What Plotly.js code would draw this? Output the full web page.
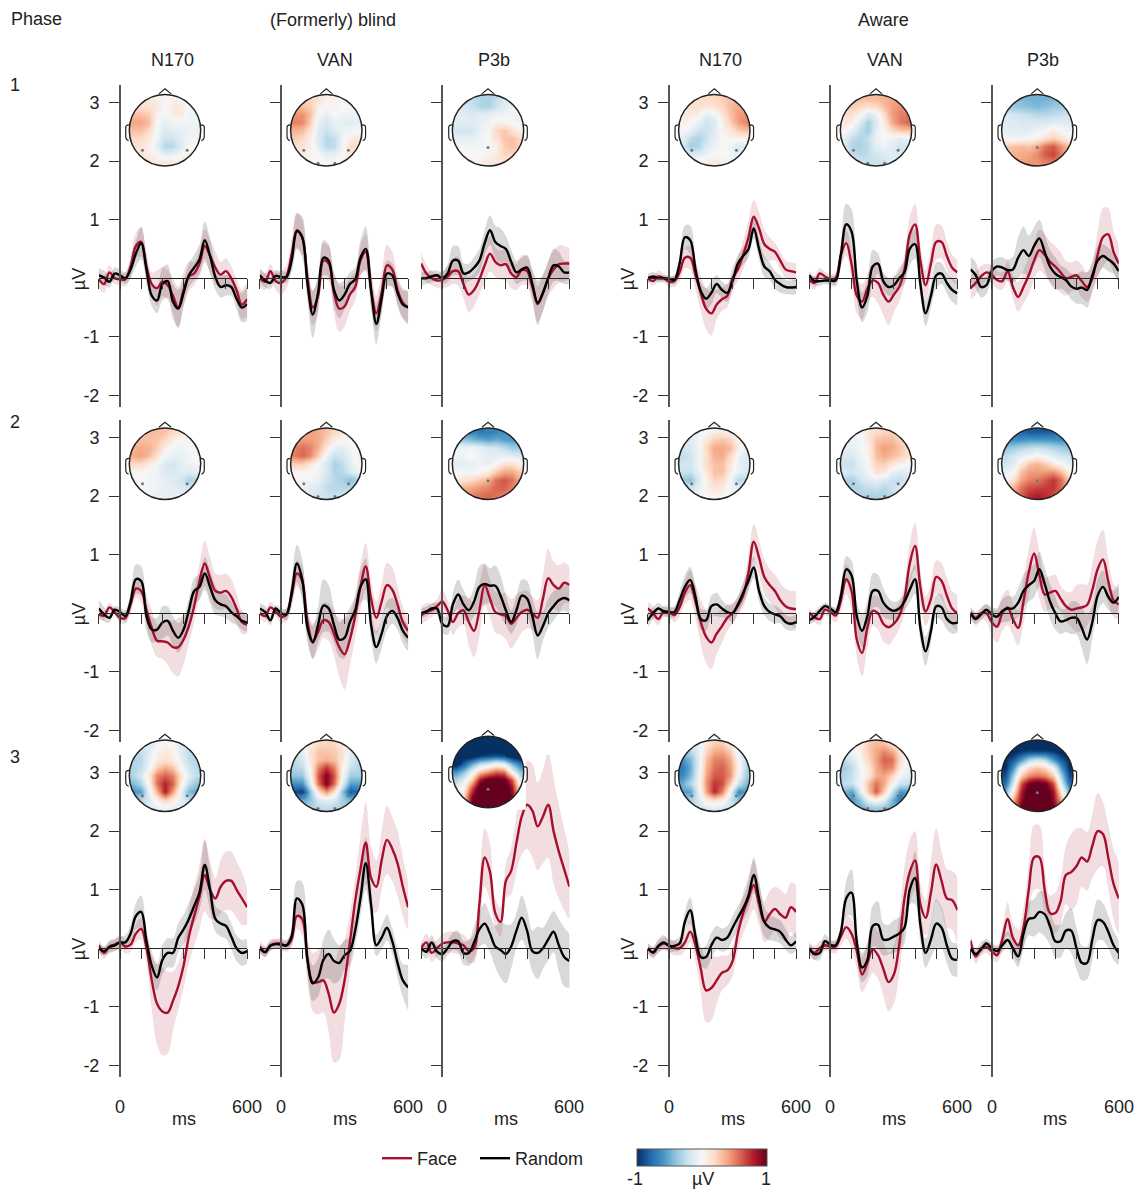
<!DOCTYPE html>
<html><head><meta charset="utf-8">
<script src="https://cdn.plot.ly/plotly-3.0.1.min.js"></script>
<style>html,body{margin:0;padding:0;background:#fff}</style></head>
<body><div id="chart" style="width:1137px;height:1191px"></div>
<script>
// All waveform and scalp values are in hundredths of a microvolt.
const times=[-100,-75,-50,-25,0,25,50,75,100,125,150,175,200,225,250,275,300,325,350,375,400,425,450,475,500,525,550,575,600];
const conditionNames=['Face','Random'];
const componentNames=['N170','VAN','P3b','N170','VAN','P3b'];
const groupNames=['(Formerly) blind','Aware'];
const phaseNames=['1','2','3'];
const yTickValues=[-2,-1,0,1,2,3];
const yTickLabels=['-2','-1','','1','2','3'];
const xTickValues=[-100,0,100,200,300,400,500,600];
const colorStops=['#053061','#2166ac','#4393c3','#92c5de','#d1e5f0','#f7f7f7','#fddbc7','#f4a582','#d6604d','#b2182b','#67001f'];

const face11=[-2,-10,10,0,-2,-2,20,55,62,20,-10,-17,-6,-12,-30,-50,-20,3,8,25,55,38,18,6,12,0,-20,-45,-36];
const rand11=[5,1,-6,8,5,0,15,42,60,15,-30,-38,-10,-5,-40,-52,-25,5,18,32,65,38,2,-15,-12,-15,-35,-50,-44];
const seF11=[15,15,12,10,10,12,18,22,25,22,20,30,25,25,30,35,30,25,20,22,28,28,28,22,22,20,20,25,28];
const seR11=[12,12,10,10,10,10,15,22,28,25,18,22,28,28,30,32,22,20,22,25,32,30,22,18,18,15,18,25,28];
const face12=[0,-6,12,-5,-8,2,40,82,70,0,-50,-30,30,25,-25,-52,-48,-28,-15,30,45,-20,-60,-25,22,15,-20,-42,-50];
const rand12=[5,-4,-8,4,2,2,30,80,70,-10,-62,-25,35,30,-20,-38,-28,-10,-2,35,50,-20,-78,-35,8,5,-25,-45,-50];
const seF12=[15,15,12,15,20,20,25,30,30,25,30,30,30,30,35,40,35,28,25,25,30,30,30,35,35,30,25,25,25];
const seR12=[12,12,10,10,10,10,20,30,35,30,40,30,30,28,28,30,25,20,20,30,38,30,35,25,22,20,22,25,28];
const face13=[25,8,0,-4,-3,3,12,12,-10,-28,-20,-2,22,42,28,22,24,8,2,14,12,-15,-44,-25,0,15,24,25,25];
const rand13=[0,0,3,5,0,8,30,30,8,10,18,30,60,82,62,55,50,28,10,15,18,-10,-42,-25,0,22,20,10,10];
const seF13=[20,15,12,12,15,18,22,25,25,30,28,25,30,30,25,25,28,25,22,25,25,28,30,32,30,32,32,30,25];
const seR13=[12,10,10,8,10,15,25,25,18,15,18,20,22,25,28,30,22,20,20,20,22,25,38,30,28,28,25,20,18];
const face14=[0,-5,3,0,-6,-5,10,35,35,5,-25,-52,-60,-45,-36,-30,0,15,40,70,105,85,58,50,45,30,15,12,10];
const rand14=[0,3,0,0,-1,-3,25,70,65,15,-22,-35,-25,-10,-20,-25,-5,25,38,50,85,50,20,12,-3,-10,-15,-16,-15];
const seF14=[5,8,10,8,8,10,15,18,20,25,30,35,38,25,20,20,20,20,25,28,28,28,25,20,15,15,15,15,15];
const seR14=[8,8,6,5,5,8,12,20,25,18,15,18,20,15,15,15,15,15,15,15,18,18,18,15,15,15,12,12,12];
const face15=[-3,-8,8,3,-2,0,40,60,25,-30,-40,-18,-4,-8,-28,-40,-28,-15,15,75,92,30,-12,25,62,62,38,18,10];
const rand15=[5,-5,-5,-4,-4,-4,40,92,80,-5,-50,-30,20,25,-5,-15,-12,0,10,50,58,-10,-60,-30,5,8,-8,-20,-26];
const seF15=[10,12,10,8,8,10,18,22,25,30,30,25,28,35,35,40,30,25,25,30,35,25,25,25,30,28,25,22,20];
const seR15=[8,8,8,6,8,10,22,35,38,28,25,28,28,18,15,15,15,18,20,28,25,20,22,20,22,18,18,20,20];
const face16=[-17,-8,3,10,6,-3,-5,12,-15,-32,-15,5,30,48,40,28,20,10,0,2,5,-5,-15,0,40,70,75,45,25];
const rand16=[15,5,-15,-12,12,20,18,14,15,35,48,38,55,68,45,20,8,2,-3,-14,-18,-16,-20,5,30,38,32,25,12];
const seF16=[20,20,18,15,15,15,15,18,20,25,28,32,32,35,35,35,35,35,30,25,25,28,25,25,40,50,45,35,30];
const seR16=[22,22,18,15,15,15,18,18,22,35,40,35,32,32,30,28,28,20,20,22,25,28,30,25,25,20,20,18,18];

const face21=[-2,-4,10,2,-8,-8,15,42,38,5,-25,-47,-48,-50,-58,-58,-45,-22,12,55,85,60,38,35,38,28,8,-15,-20];
const rand21=[8,-2,-8,6,2,-5,20,58,55,-5,-28,-28,-16,-13,-30,-42,-28,5,38,45,68,45,22,15,12,2,-5,-13,-16];
const seF21=[8,8,8,6,8,10,12,15,20,25,30,28,30,38,45,50,42,30,28,30,38,35,30,30,30,30,25,20,15];
const seR21=[15,12,8,6,8,10,18,25,25,25,22,20,28,25,25,25,22,20,22,22,28,28,25,20,20,18,15,15,15];
const face22=[0,-5,10,3,-6,-3,30,68,55,-15,-48,-32,-12,-15,-35,-58,-70,-45,-5,45,80,25,-8,20,48,40,15,-15,-30];
const rand22=[8,2,-12,8,0,-2,35,85,58,-25,-50,-20,13,8,-20,-45,-42,-15,5,45,58,-20,-58,-35,-5,4,-8,-30,-42];
const seF22=[8,10,10,8,10,12,18,22,25,25,30,30,30,32,38,50,60,45,38,38,40,30,28,30,38,38,30,25,22];
const seR22=[10,10,8,6,8,10,22,32,35,25,28,30,45,40,30,30,35,25,22,28,35,25,28,25,25,22,20,22,22];
const face23=[-4,2,5,12,20,5,-15,0,5,-15,-30,5,48,25,2,-2,-5,-18,-8,2,6,0,-8,25,60,48,42,52,48];
const rand23=[0,3,8,8,-18,-22,15,32,15,5,20,45,50,47,47,30,5,-15,5,30,25,-5,-38,-22,0,12,22,26,22];
const seF23=[15,15,12,12,20,18,22,25,25,40,45,45,35,32,35,35,40,42,40,35,32,28,30,40,50,40,40,35,30];
const seR23=[8,8,8,10,15,15,20,25,25,20,25,35,35,30,35,35,25,20,25,28,30,30,40,25,25,25,22,22,22];
const face24=[8,0,-10,3,2,-3,10,35,48,20,-15,-40,-50,-35,-22,-8,0,12,30,70,122,95,62,48,38,22,12,8,7];
const rand24=[-12,0,8,3,2,2,22,45,57,28,-10,-12,12,15,8,2,0,15,35,55,78,38,12,2,-2,-5,-15,-18,-15];
const seF24=[12,12,10,10,10,12,15,20,25,28,38,45,45,35,28,22,18,15,20,28,30,30,30,28,28,30,30,30,30];
const seR24=[12,10,10,8,8,10,15,20,22,20,18,18,18,20,15,12,15,15,18,18,18,18,15,15,15,12,12,12,12];
const face25=[1,-7,-10,6,2,-4,22,58,38,-45,-68,-25,4,0,-18,-24,-18,-5,25,85,115,45,3,25,62,55,30,8,0];
const rand25=[-12,-6,4,12,8,2,30,75,65,-5,-30,-5,38,38,18,8,4,8,20,40,58,-25,-65,-30,12,10,-10,-17,-16];
const seF25=[8,8,10,10,10,12,18,25,30,30,40,35,25,28,30,30,25,22,25,35,40,30,25,25,28,30,30,30,30];
const seR25=[8,8,8,6,6,8,18,22,25,25,28,25,30,28,25,18,15,15,15,22,25,22,25,20,20,22,18,18,16];
const face26=[2,-8,0,0,-15,-23,0,10,-10,-25,20,70,102,65,32,35,38,25,12,6,8,10,14,40,75,92,55,22,15];
const rand26=[0,-10,-2,6,-2,-6,4,8,8,18,38,48,55,75,50,20,0,-14,-12,-8,-8,-25,-45,-15,30,45,28,18,28];
const seF26=[10,10,10,15,22,28,30,30,28,30,38,40,45,40,30,28,28,22,25,30,40,40,35,45,50,50,38,28,25];
const seR26=[10,10,10,10,12,15,20,22,20,25,28,28,28,30,28,30,28,22,20,28,28,35,42,28,28,28,22,20,22];

const face31=[5,-8,3,6,10,3,6,25,33,0,-55,-95,-108,-110,-90,-65,-30,20,55,88,125,100,85,105,115,115,100,85,70];
const rand31=[0,-5,2,5,10,10,25,55,62,12,-30,-50,-20,-8,-8,18,32,50,72,95,142,100,50,42,38,20,0,-8,-5];
const seF31=[10,10,10,10,12,12,12,15,18,25,50,70,75,70,50,40,38,45,50,55,62,50,35,45,50,50,48,45,30];
const seR31=[8,8,10,10,10,12,15,22,28,20,18,22,25,25,25,25,25,28,30,30,42,35,22,22,22,22,22,22,20];
const face32=[3,-6,5,8,8,4,15,55,50,-20,-58,-58,-55,-78,-110,-95,-55,10,80,135,180,120,105,150,185,170,145,105,70];
const rand32=[0,-7,4,7,6,5,20,85,75,-20,-60,-50,-20,-10,-22,-25,-12,-5,30,85,145,75,5,18,35,12,-25,-55,-67];
const seF32=[10,10,10,8,10,10,12,22,28,35,50,55,55,65,85,95,70,50,40,55,70,55,45,50,58,55,55,50,38];
const seR32=[8,8,8,8,8,8,15,30,38,25,30,32,35,42,38,30,25,25,25,30,45,25,18,20,22,22,25,28,38];
const face33=[0,10,-8,0,8,10,10,8,5,-5,0,75,155,130,60,45,115,132,180,225,245,235,208,225,245,200,165,135,105];
const rand33=[0,-6,10,-6,-10,0,12,12,-8,-8,10,32,42,25,3,-3,-10,3,30,52,30,-5,-8,0,15,28,5,-15,-22];
const seF33=[10,15,15,15,15,18,18,18,18,20,25,40,50,50,25,25,30,40,50,65,75,80,75,80,90,90,80,70,55];
const seR33=[10,12,12,12,12,12,15,18,20,22,28,30,35,32,35,48,50,38,30,38,35,35,45,35,35,35,45,50,45];
const face34=[0,-8,3,8,5,0,0,10,28,5,-35,-72,-68,-55,-42,-38,-22,25,60,85,108,75,45,58,67,58,52,70,62];
const rand34=[0,-7,4,10,4,4,8,45,65,20,-15,-15,5,18,14,18,35,52,68,90,125,85,45,35,32,28,15,5,12];
const seF34=[10,10,10,10,12,12,12,15,18,28,40,55,55,40,30,25,25,28,35,38,42,35,35,40,38,42,40,42,45];
const seR34=[8,8,12,12,10,10,12,18,22,18,15,20,22,20,20,20,20,20,20,25,30,30,25,22,20,20,18,15,15];
const face35=[0,-8,0,5,3,3,20,36,25,-5,-45,-25,-2,-12,-35,-58,-45,5,85,130,150,75,52,95,143,115,85,82,65];
const rand35=[0,-10,-8,12,6,5,28,85,95,10,-33,-20,38,40,15,15,20,25,35,100,120,40,-8,15,42,35,5,-18,-20];
const seF35=[10,12,12,10,10,12,15,20,25,30,30,35,40,40,45,50,50,50,55,55,50,35,30,55,62,50,50,50,55];
const seR35=[8,10,12,12,8,8,12,30,40,22,25,28,35,40,28,25,28,28,28,25,45,30,25,30,42,35,30,28,28];
const face36=[13,-14,0,2,-5,-12,15,50,18,5,35,100,155,155,100,60,60,80,125,130,140,155,148,175,200,195,155,110,85];
const rand36=[0,-10,-2,8,0,-5,5,14,0,-14,25,50,52,62,58,38,12,12,30,30,0,-25,-25,15,48,45,28,5,-8];
const seF36=[12,12,12,10,12,12,18,28,25,28,35,42,55,55,40,30,35,40,50,65,65,50,50,55,65,55,55,60,60];
const seR36=[8,8,8,8,8,10,12,15,18,18,25,28,32,35,38,32,28,28,30,38,35,30,28,35,35,32,28,25,20];

// Scalp maps: nine rows front to back, nine columns left to right.
const topo11=[[10,10,10,5,0,5,0,0,0],[15,15,15,10,0,10,10,-3,-3],[30,30,25,5,-3,10,10,-4,-5],[40,40,30,0,-10,-5,-3,-5,-5],[30,30,20,-3,-15,-10,-8,-7,-5],[20,20,10,-5,-20,-20,-10,-3,-2],[15,12,5,-10,-30,-28,-12,0,0],[12,10,8,0,-10,-8,0,5,8],[15,15,12,10,10,10,10,10,10]];
const topo12=[[15,20,20,15,5,5,0,0,0],[30,30,25,5,0,5,0,-2,-2],[45,45,30,0,-8,0,-3,-5,-5],[50,48,25,-10,-18,-8,-10,-12,-8],[35,32,15,-12,-22,-12,-5,-3,0],[25,20,5,-15,-28,-25,-5,8,10],[15,12,5,-10,-28,-25,-5,18,22],[8,8,3,-2,-10,-8,0,10,15],[5,5,3,0,0,0,3,5,5]];
const topo13=[[-25,-25,-25,-30,-32,-25,-15,-10,-5],[-15,-18,-22,-30,-32,-22,-12,-5,-3],[-10,-10,-15,-12,-10,-5,-3,-3,-5],[-12,-12,-12,-8,-5,5,5,-3,-5],[-20,-20,-18,-8,-2,20,28,15,5],[-8,-8,-8,-3,0,15,28,30,20],[-3,-3,-3,-3,0,5,25,30,22],[0,0,0,0,3,10,22,22,15],[3,3,3,5,10,12,12,10,8]];
const topo14=[[15,15,18,20,20,25,28,28,28],[15,15,15,12,15,22,32,38,38],[10,10,5,-10,-5,12,30,42,45],[5,3,-8,-20,-15,5,25,42,50],[0,-8,-20,-22,-12,3,12,25,30],[-10,-25,-32,-22,-8,0,3,3,5],[-15,-35,-30,-15,-5,0,-5,-15,-10],[-10,-15,-12,-5,0,0,-3,-8,-5],[5,5,5,8,10,8,5,3,3]];
const topo15=[[28,28,30,32,32,35,38,38,38],[25,25,22,15,20,30,42,45,45],[18,15,3,-15,-8,18,42,50,52],[12,5,-15,-32,-15,10,38,52,58],[3,-8,-25,-35,-10,3,18,28,30],[-10,-25,-30,-25,-5,0,-5,-10,-5],[-15,-30,-32,-25,-10,-5,-12,-20,-15],[-12,-25,-28,-25,-18,-15,-12,-15,-10],[-10,-15,-20,-22,-22,-20,-10,-5,-5]];
const topo16=[[-40,-42,-45,-48,-48,-48,-45,-42,-40],[-35,-38,-40,-42,-45,-42,-38,-35,-35],[-15,-18,-22,-25,-28,-28,-25,-22,-20],[-12,-12,-15,-15,-15,-15,-12,-12,-12],[-10,-12,-12,-10,-5,-3,10,0,-5],[-3,-3,-3,0,5,15,25,15,5],[25,30,32,30,38,55,62,45,30],[30,35,38,40,48,62,68,50,35],[30,35,40,45,45,50,52,42,30]];
const topo21=[[30,30,30,32,30,20,15,12,10],[30,30,30,28,20,8,0,3,5],[35,38,35,25,8,-3,-5,0,5],[38,40,32,15,-3,-8,-8,-3,3],[20,20,10,-2,-15,-18,-10,-5,-2],[3,3,-3,-5,-15,-15,-10,-12,-10],[0,0,-2,-5,-10,-12,-18,-32,-28],[0,0,-3,-5,-8,-10,-15,-18,-15],[-3,-3,-5,-8,-8,-8,-8,-8,-8]];
const topo22=[[35,38,40,38,30,20,10,8,5],[40,42,42,38,25,8,0,0,3],[50,55,50,35,10,-8,-10,-3,5],[52,58,48,25,-5,-22,-18,-5,5],[25,25,12,-2,-15,-32,-25,-10,3],[3,3,0,-5,-15,-30,-28,-15,-5],[0,-2,-3,-8,-20,-28,-32,-42,-30],[-3,-5,-10,-15,-25,-28,-28,-28,-20],[-8,-10,-15,-18,-22,-22,-18,-15,-10]];
const topo23=[[-55,-60,-65,-72,-70,-65,-60,-55,-55],[-35,-40,-45,-50,-55,-50,-55,-58,-55],[-5,-5,-3,-8,-15,-18,-25,-35,-35],[-5,-3,3,-5,-10,-10,-8,-12,-15],[-10,-10,-8,-5,-8,0,15,15,5],[-3,-3,-3,0,8,25,38,38,25],[10,15,20,28,35,55,62,55,35],[30,35,40,45,50,58,60,50,38],[40,45,50,55,58,55,50,45,35]];
const topo24=[[-10,-8,-5,0,5,8,5,0,-5],[-15,-12,-3,12,25,28,22,5,-5],[-18,-15,-3,20,38,38,32,8,-8],[-25,-20,-5,18,35,38,20,-5,-15],[-20,-18,-3,18,30,30,12,-8,-15],[-20,-22,-8,12,30,30,8,-8,-15],[-38,-42,-15,5,22,20,-3,-28,-25],[-18,-20,-8,5,12,10,-3,-10,-8],[-5,-5,-3,0,3,3,-3,-3,-3]];
const topo25=[[-3,-3,0,10,18,22,22,15,10],[-5,-5,-3,10,28,32,32,22,15],[-8,-8,-3,5,32,42,38,28,18],[-15,-15,-5,3,30,38,32,25,15],[-22,-22,-8,0,22,25,15,5,0],[-15,-18,-12,-3,15,12,-8,-12,-10],[-30,-32,-20,-12,-8,-15,-22,-25,-15],[-28,-32,-28,-25,-22,-28,-22,-15,-10],[-25,-25,-28,-32,-32,-32,-25,-15,-10]];
const topo26=[[-70,-75,-80,-85,-85,-85,-80,-75,-70],[-60,-62,-60,-58,-58,-58,-60,-62,-60],[-40,-35,-30,-25,-22,-25,-30,-35,-40],[-25,-18,-10,-5,3,-5,-12,-18,-22],[-20,-12,10,28,35,25,10,0,-10],[-10,0,30,42,42,42,45,30,5],[5,15,40,50,52,62,72,55,25],[20,35,55,65,68,70,72,55,30],[30,45,60,75,80,75,65,50,30]];
const topo31=[[-20,-20,-15,-5,3,-3,-15,-20,-20],[-28,-25,-12,5,10,5,-12,-25,-28],[-30,-28,-8,8,15,8,-8,-25,-28],[-30,-25,-5,25,38,28,0,-20,-28],[-30,-15,12,50,60,50,14,-12,-25],[-45,-30,5,55,78,58,8,-25,-40],[-60,-55,-8,35,80,40,-8,-45,-55],[-30,-30,-15,8,25,10,-12,-25,-28],[-15,-15,-10,-8,-5,-8,-10,-15,-15]];
const topo32=[[-15,-8,8,20,22,20,8,-8,-15],[-20,-10,15,28,28,26,15,-10,-20],[-25,-18,12,30,35,30,12,-15,-25],[-30,-25,5,50,72,50,5,-22,-28],[-40,-38,0,62,95,62,0,-35,-35],[-62,-60,-12,55,95,55,-10,-55,-55],[-90,-95,-40,15,45,15,-40,-85,-75],[-50,-55,-40,-15,-8,-15,-35,-45,-45],[-30,-30,-30,-28,-25,-28,-30,-30,-30]];
const topo33=[[-120,-120,-120,-120,-120,-120,-120,-120,-120],[-120,-120,-120,-120,-120,-120,-120,-120,-120],[-120,-110,-110,-95,-90,-85,-90,-110,-120],[-110,-80,-50,-25,-15,0,-10,-45,-70],[-60,-40,-5,30,45,60,55,0,-40],[-30,-10,25,85,105,110,105,65,-10],[-10,5,65,115,120,120,120,85,10],[0,20,90,120,120,120,120,95,20],[10,40,100,120,120,120,120,95,40]];
const topo34=[[-25,-20,-8,12,25,25,10,-10,-25],[-40,-30,-10,20,38,40,25,-8,-20],[-60,-45,-12,30,50,52,38,0,-25],[-70,-50,-10,35,55,60,42,5,-30],[-65,-45,-8,40,62,62,45,-2,-35],[-50,-30,-5,45,72,65,25,-20,-45],[-55,-55,-10,40,78,50,-5,-65,-55],[-40,-35,-15,10,18,10,-20,-40,-35],[-25,-25,-22,-15,-10,-15,-20,-25,-25]];
const topo35=[[-5,-3,8,25,32,30,15,3,-5],[-15,-5,5,25,38,50,40,15,0],[-25,-15,0,20,40,60,55,18,-5],[-35,-25,-3,10,38,52,48,10,-8],[-30,-22,-5,10,35,40,22,-3,-12],[-25,-20,-2,30,55,38,5,-20,-25],[-45,-55,-15,25,62,25,-20,-60,-55],[-50,-60,-40,-8,5,-10,-45,-70,-60],[-45,-50,-50,-40,-35,-40,-50,-55,-50]];
const topo36=[[-120,-120,-120,-120,-120,-120,-120,-120,-120],[-110,-105,-95,-90,-90,-90,-95,-105,-110],[-100,-85,-60,-30,-20,-30,-60,-85,-100],[-100,-60,-5,20,28,20,-5,-60,-100],[-90,-35,25,48,55,48,25,-35,-90],[-75,-15,65,100,110,100,65,-15,-75],[-50,10,80,115,120,115,85,10,-50],[-30,35,90,115,120,115,90,35,-30],[-20,50,100,120,120,120,100,50,-20]];
const electrodes={N170:[[-.63,-.56],[.62,-.56]],VAN:[[-.63,-.56],[.62,-.56],[-.23,-.92],[.24,-.92]],P3b:[[0,-.48]]};

const waves=[[face11,rand11,seF11,seR11],[face12,rand12,seF12,seR12],[face13,rand13,seF13,seR13],[face14,rand14,seF14,seR14],[face15,rand15,seF15,seR15],[face16,rand16,seF16,seR16],
[face21,rand21,seF21,seR21],[face22,rand22,seF22,seR22],[face23,rand23,seF23,seR23],[face24,rand24,seF24,seR24],[face25,rand25,seF25,seR25],[face26,rand26,seF26,seR26],
[face31,rand31,seF31,seR31],[face32,rand32,seF32,seR32],[face33,rand33,seF33,seR33],[face34,rand34,seF34,seR34],[face35,rand35,seF35,seR35],[face36,rand36,seF36,seR36]];
const topos=[topo11,topo12,topo13,topo14,topo15,topo16,topo21,topo22,topo23,topo24,topo25,topo26,topo31,topo32,topo33,topo34,topo35,topo36];

const W=1137,H=1191,FS=18;
const FONT='"Liberation Sans",Arial,sans-serif',TXT='#222',AX='#555';
const RED='#a50f2d',BLK='#000';
const zeroX=[120,281,442.3,669,830.3,991.7];
const PXMS=0.2119;
const rowTop=[85,420,755];
const ROWH=322.3, PXUV=58.55;
const headX=[165,326.3,488,714.3,876,1037.3];
const headY=[130.3,463.7,775.7];
const HEADR=35.7, AXR=1.25;
const fx=p=>p/W, fy=p=>1-p/H;
const cs=colorStops.map((c,i)=>[i/10,c]);
const traces=[],shapes=[],annotations=[],layout={};
const circle=r=>{const k=.5523*r;return `M${-r},0 C${-r},${k} ${-k},${r} 0,${r} C${k},${r} ${r},${k} ${r},0 C${r},${-k} ${k},${-r} 0,${-r} C${-k},${-r} ${-r},${-k} ${-r},0 Z`;};
const note=(x,y,text,extra)=>annotations.push(Object.assign({x:fx(x),y:fy(y),xref:'paper',yref:'paper',text,showarrow:false,xanchor:'center',yanchor:'middle',font:{family:FONT,size:FS,color:TXT}},extra||{}));
const gridX=Array.from({length:9},(_,i)=>(-0.9+0.225*i));

waves.forEach((w,idx)=>{
  const col=idx%6,row=Math.floor(idx/6),n=idx+1,m=idx+19;
  const xs=n===1?'x':'x'+n, ys=n===1?'y':'y'+n, xm='x'+m, ym='y'+m;
  const xk=n===1?'xaxis':'xaxis'+n, yk=n===1?'yaxis':'yaxis'+n;
  const top=rowTop[row], zeroY=top+3.3*PXUV;
  layout[xk]={domain:[fx(zeroX[col]-100*PXMS),fx(zeroX[col]+600*PXMS)],range:[-100,600],anchor:'free',position:fy(zeroY),
    tickmode:'array',tickvals:xTickValues,ticks:'outside',ticklen:10,tickwidth:1,tickcolor:'#333',showticklabels:false,
    showgrid:false,zeroline:false,showline:true,linecolor:'#222',linewidth:1,layer:'above traces'};
  layout[yk]={domain:[fy(top+ROWH),fy(top)],range:[-2.205,3.3],anchor:'free',position:fx(zeroX[col]),
    tickmode:'array',tickvals:yTickValues,ticktext:yTickLabels,ticks:'outside',ticklen:10,tickwidth:1,tickcolor:'#333',showticklabels:col===0||col===3,
    tickfont:{family:FONT,size:FS,color:TXT},ticklabelstandoff:6,showgrid:false,zeroline:false,showline:true,linecolor:AX,linewidth:2};
  const [f,r,sf,sr]=w;
  [[f,sf,'rgba(165,15,45,0.14)'],[r,sr,'rgba(0,0,0,0.15)']].forEach(([mean,se,fill])=>{
    const up=mean.map((v,i)=>(v+se[i])/100), lo=mean.map((v,i)=>(v-se[i])/100);
    traces.push({type:'scatter',mode:'lines',x:times.concat(times.slice().reverse()),y:up.concat(lo.reverse()),fill:'toself',fillcolor:fill,
      line:{width:0,shape:'spline',smoothing:1},xaxis:xs,yaxis:ys,showlegend:false,hoverinfo:'skip'});
  });
  [[f,RED,conditionNames[0],'legend'],[r,BLK,conditionNames[1],'legend2']].forEach(([mean,c,name,lg])=>{
    traces.push({type:'scatter',mode:'lines',x:times,y:mean.map(v=>v/100),name,legend:lg,line:{color:c,width:2.4,shape:'spline',smoothing:1},
      xaxis:xs,yaxis:ys,showlegend:idx===0,hoverinfo:'skip'});
  });

  // Scalp map inset
  const cx=headX[col],cy=(row===2&&col===2)?772:headY[row];
  const half=HEADR*AXR;
  layout['xaxis'+m]={domain:[fx(cx-half),fx(cx+half)],range:[-AXR,AXR],anchor:ym,visible:false};
  layout['yaxis'+m]={domain:[fy(cy+half),fy(cy-half)],range:[-AXR,AXR],anchor:xm,visible:false};
  traces.push({type:'heatmap',x:gridX,y:gridX,z:topos[idx].slice().reverse().map(a=>a.map(v=>v/100)),zsmooth:'best',zmin:-1,zmax:1,colorscale:cs,
    xaxis:xm,yaxis:ym,hoverinfo:'skip',showscale:idx===0,
    colorbar:idx===0?{orientation:'h',x:fx(637),xanchor:'left',y:fy(1149),yanchor:'top',len:130,lenmode:'pixels',thickness:17,thicknessmode:'pixels',xpad:0,ypad:0,
      outlinecolor:'#555',outlinewidth:1,showticklabels:false,ticks:''}:undefined});
  const el=electrodes[componentNames[col]];
  traces.push({type:'scatter',mode:'markers',x:el.map(e=>e[0]),y:el.map(e=>e[1]),marker:{size:3,color:'#777'},xaxis:xm,yaxis:ym,showlegend:false,hoverinfo:'skip'});
  const S=1.06;
  shapes.push({type:'path',xref:xm,yref:ym,layer:'above',fillcolor:'#fff',line:{width:0},fillrule:'evenodd',path:`M${-S},${-S} L${S},${-S} L${S},${S} L${-S},${S} Z ${circle(1)}`});
  shapes.push({type:'path',xref:xm,yref:ym,layer:'above',line:{color:'#222',width:1.5},path:circle(1)});
  shapes.push({type:'path',xref:xm,yref:ym,layer:'above',line:{color:'#222',width:1.2},path:'M-.17,1.02 L0,1.16 L.17,1.02'});
  shapes.push({type:'path',xref:xm,yref:ym,layer:'above',line:{color:'#222',width:1.2},path:'M-1,.15 C-1.06,.15 -1.1,.13 -1.1,.08 L-1.1,-.16 C-1.1,-.24 -1.06,-.28 -1.02,-.29'});
  shapes.push({type:'path',xref:xm,yref:ym,layer:'above',line:{color:'#222',width:1.2},path:'M1,.15 C1.06,.15 1.1,.13 1.1,.08 L1.1,-.16 C1.1,-.24 1.06,-.28 1.02,-.29'});

  if(col===0||col===3) note(col===0?79:628,zeroY+1,'µV',{textangle:-90});
  if(row===2){
    [0,600].forEach(t=>annotations.push({x:t,y:fy(1107),xref:xs,yref:'paper',text:String(t),showarrow:false,xanchor:'center',yanchor:'middle',font:{family:FONT,size:FS,color:TXT}}));
    annotations.push({x:300,y:fy(1119),xref:xs,yref:'paper',text:'ms',showarrow:false,xanchor:'center',yanchor:'middle',font:{family:FONT,size:FS,color:TXT}});
  }
});

note(36,19,'Phase');
note(333,20,groupNames[0]);
note(883,20,groupNames[1]);
[172,335,494,721,885,1043].forEach((x,i)=>note(x,60,componentNames[i]));
[85,422,757].forEach((y,i)=>note(15,y,phaseNames[i]));
[[635,'-1'],[703,'µV'],[766,'1']].forEach(([x,t])=>note(x,1179,t));

const legendStyle=px=>({orientation:'h',x:fx(px),xanchor:'left',y:fy(1140),yanchor:'top',bgcolor:'rgba(0,0,0,0)',font:{family:FONT,size:FS,color:TXT},itemwidth:30});
Object.assign(layout,{width:W,height:H,margin:{l:0,r:0,t:0,b:0},paper_bgcolor:'#fff',plot_bgcolor:'rgba(0,0,0,0)',
  font:{family:FONT,size:FS,color:TXT},shapes,annotations,hovermode:false,
  legend:legendStyle(377),legend2:legendStyle(475)});
Plotly.newPlot('chart',traces,layout,{displayModeBar:false,staticPlot:true});
</script></body></html>
